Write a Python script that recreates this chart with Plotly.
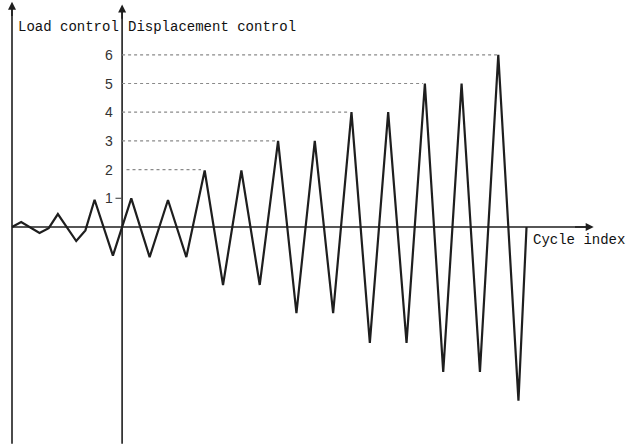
import plotly.graph_objects as go

# ---- data (x in cycle units, y in displacement levels) ----
load_x = [0, 0.25, 0.75, 1.0, 1.25, 1.75, 2.0, 2.25, 2.75]
load_y = [0, 0.17, -0.21, -0.04, 0.45, -0.49, -0.12, 0.95, -1.0]

disp_x = [3.25, 3.75, 4.25, 4.75, 5.25, 5.75, 6.25, 6.75, 7.25, 7.75,
          8.25, 8.75, 9.25, 9.75, 10.25, 10.75, 11.25, 11.75, 12.25, 12.75,
          13.25, 13.8, 14.02]
disp_y = [1.0, -1.05, 0.94, -1.05, 1.97, -2.02, 1.97, -2.02, 3.0, -3.0,
          3.0, -3.0, 4.0, -4.04, 4.0, -4.04, 5.0, -5.05, 5.0, -5.05,
          6.0, -6.05, 0]

tick_levels = [1, 2, 3, 4, 5, 6]
tick_labels = ["1", "2", "3", "4", "5", "6"]
guide_levels = [2, 3, 4, 5, 6]
guide_start = [3.12, 3.0, 3.0, 3.0, 3.0]
guide_end = [5.15, 7.2, 9.2, 11.2, 13.25]

switch_x = 3.0  # boundary between load and displacement control

x_all = load_x + disp_x
y_all = load_y + disp_y

# ---- layout mapping (pixel -> data) ----
px_per_x = 36.7
px_per_y = 28.7
x0_px, y0_px = 12, 227
W, H = 628, 446
xr = [-x0_px / px_per_x, (W - x0_px) / px_per_x]
yr = [-(H - y0_px) / px_per_y, y0_px / px_per_y]

ink = "#1e1e1e"
fig = go.Figure()
fig.add_trace(go.Scatter(x=x_all, y=y_all, mode="lines",
                         line=dict(color=ink, width=2.2),
                         hoverinfo="skip", showlegend=False))

shapes = []
# axes
y_bot = -7.55
shapes.append(dict(type="line", x0=0, x1=0, y0=y_bot, y1=7.6,
                   line=dict(color=ink, width=1.6)))
shapes.append(dict(type="line", x0=switch_x, x1=switch_x, y0=y_bot, y1=7.5,
                   line=dict(color=ink, width=1.6)))
shapes.append(dict(type="line", x0=0, x1=15.7, y0=0, y1=0,
                   line=dict(color=ink, width=1.6)))
# dotted guide lines
for lv, xs, xe in zip(guide_levels, guide_start, guide_end):
    shapes.append(dict(type="line", x0=xs, x1=xe, y0=lv, y1=lv,
                       line=dict(color="#8a8a8a", width=1.2, dash="dot")))
# small tick at level 1
shapes.append(dict(type="line", x0=2.82, x1=switch_x, y0=1, y1=1,
                   line=dict(color="#555", width=1.2)))

annotations = []
# arrow heads
annotations.append(dict(x=0, y=7.85, ax=0, ay=7.3, xref="x", yref="y",
                        axref="x", ayref="y", text="", showarrow=True,
                        arrowhead=2, arrowsize=1, arrowwidth=1.6,
                        arrowcolor=ink))
annotations.append(dict(x=switch_x, y=7.75, ax=switch_x, ay=7.2, xref="x",
                        yref="y", axref="x", ayref="y", text="",
                        showarrow=True, arrowhead=2, arrowsize=1,
                        arrowwidth=1.6, arrowcolor=ink))
annotations.append(dict(x=15.85, y=0, ax=15.3, ay=0, xref="x", yref="y",
                        axref="x", ayref="y", text="", showarrow=True,
                        arrowhead=2, arrowsize=1, arrowwidth=1.6,
                        arrowcolor=ink))
# tick labels
for lv, lab in zip(tick_levels, tick_labels):
    annotations.append(dict(x=2.8, y=lv, xref="x", yref="y", text=lab,
                            showarrow=False, xanchor="right", yanchor="middle",
                            font=dict(family="Liberation Sans", size=14,
                                      color="#333")))
mono = dict(family="Liberation Mono", size=14, color="#111")
annotations.append(dict(x=0.1, y=6.98, xref="x", yref="y", text="Load control",
                        showarrow=False, xanchor="left", yanchor="middle",
                        font=mono))
annotations.append(dict(x=3.1, y=6.98, xref="x", yref="y",
                        text="Displacement control", showarrow=False,
                        xanchor="left", yanchor="middle", font=mono))
annotations.append(dict(x=14.15, y=-0.45, xref="x", yref="y",
                        text="Cycle index", showarrow=False, xanchor="left",
                        yanchor="middle", font=mono))

fig.update_layout(
    width=W, height=H, margin=dict(l=0, r=0, t=0, b=0),
    paper_bgcolor="white", plot_bgcolor="white",
    xaxis=dict(range=xr, visible=False, fixedrange=True),
    yaxis=dict(range=yr, visible=False, fixedrange=True),
    shapes=shapes, annotations=annotations, showlegend=False,
)
fig.write_html("out.html")
